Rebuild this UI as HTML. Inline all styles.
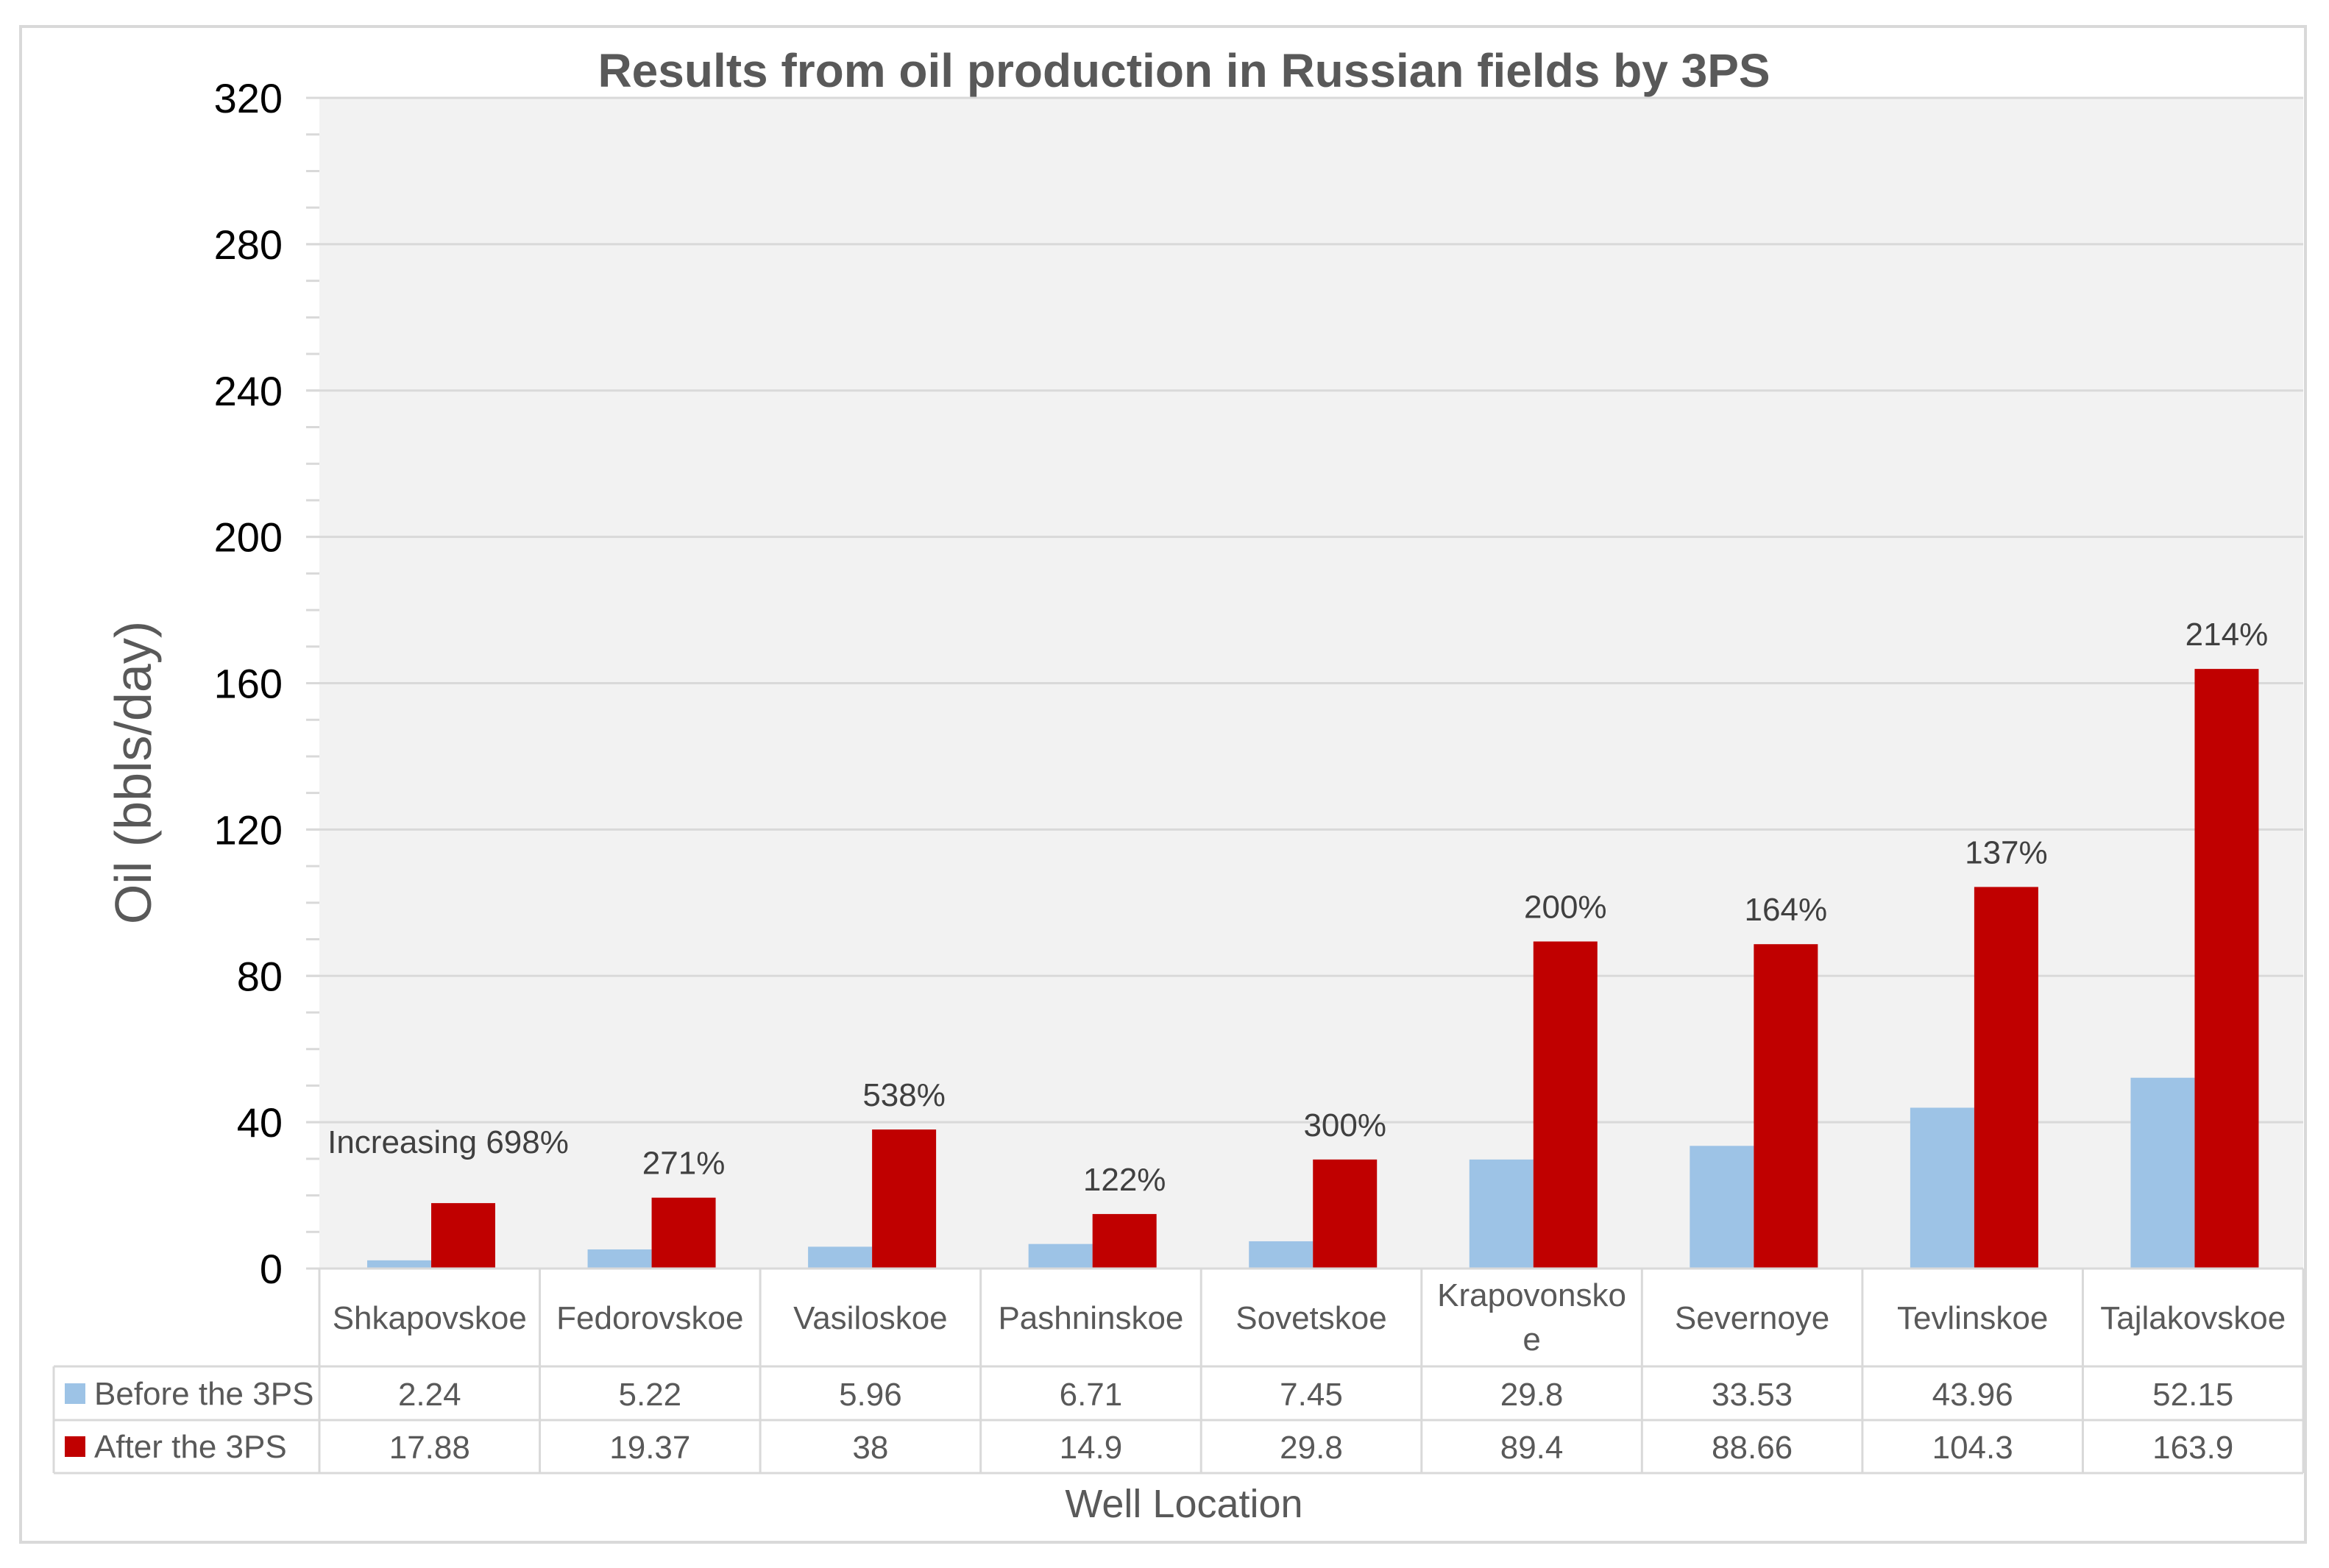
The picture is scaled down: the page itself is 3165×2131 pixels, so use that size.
<!DOCTYPE html>
<html><head><meta charset="utf-8"><style>
html,body{margin:0;padding:0;background:#fff;}
svg{display:block;font-family:"Liberation Sans",sans-serif;}
</style></head><body>
<svg id="chart" width="3165" height="2131" viewBox="0 0 3165 2131">
<rect x="28" y="36" width="3105" height="2060" fill="#fff" stroke="#d9d9d9" stroke-width="4"/>
<rect x="434" y="133" width="2696" height="1591" fill="#f2f2f2"/>
<text x="1609" y="118" text-anchor="middle" font-size="64" font-weight="bold" fill="#595959">Results from oil production in Russian fields by 3PS</text>
<g id="grid"></g><g id="bars"></g><g id="table"></g>
<text transform="translate(205,1050) rotate(-90)" text-anchor="middle" font-size="70" fill="#595959">Oil (bbls/day)</text>
<text x="1609" y="2062" text-anchor="middle" font-size="54" fill="#595959">Well Location</text>
</svg>
<script>
const categories=["Shkapovskoe","Fedorovskoe","Vasiloskoe","Pashninskoe","Sovetskoe","Krapovonskoe","Severnoye","Tevlinskoe","Tajlakovskoe"];
const beforeVals=[2.24,5.22,5.96,6.71,7.45,29.8,33.53,43.96,52.15];
const afterVals=[17.88,19.37,38,14.9,29.8,89.4,88.66,104.3,163.9];
const pctLabels=["Increasing 698%","271%","538%","122%","300%","200%","164%","137%","214%"];
const yTicks=[0,40,80,120,160,200,240,280,320];
const NS="http://www.w3.org/2000/svg";
const L=434,R=3130,T=133,B=1724,YMAX=320;
const cw=(R-L)/categories.length;
const y=v=>B-(v/YMAX)*(B-T);
const xc=i=>L+i*cw;
function mk(tag,attrs,parent,text){const e=document.createElementNS(NS,tag);for(const k in attrs)e.setAttribute(k,attrs[k]);if(text!==undefined)e.textContent=text;parent.appendChild(e);return e;}
const grid=document.getElementById('grid'),bars=document.getElementById('bars'),table=document.getElementById('table');
for(let v=0;v<=YMAX;v+=10){
  const t=mk('line',{x1:L-18,x2:L,y1:y(v),y2:y(v),stroke:'#d9d9d9','stroke-width':3},grid);
  
  
}
yTicks.forEach(v=>{
  const g=mk('line',{x1:L-18,x2:R,y1:y(v),y2:y(v),stroke:'#d9d9d9','stroke-width':3},grid);
  
  
  const t=mk('text',{x:384,y:y(v)+20,'text-anchor':'end','font-size':56,fill:'#000'},grid,String(v));
  
  
});
const bw=87,off=65;
categories.forEach((c,i)=>{
  const x0=xc(i)+off;
  const b1=mk('rect',{x:x0,y:y(beforeVals[i]),width:bw,height:B-y(beforeVals[i]),fill:'#9dc3e6'},bars);
  
  
  const b2=mk('rect',{x:x0+bw,y:y(afterVals[i]),width:bw,height:B-y(afterVals[i]),fill:'#c00000'},bars);
  
  
  const lx=i===0?xc(i)+175:x0+bw*1.5;
  const lb=mk('text',{x:lx,y:y(afterVals[i])-(i===0?68:32),'text-anchor':'middle','font-size':44,fill:'#404040'},bars,pctLabels[i]);
  
  
});
const r0=1724,r1=1857,r2=1930,r3=2002,TL=73;
[[L,R,r0],[TL,R,r1],[TL,R,r2],[TL,R,r3]].forEach(a=>{
  const h=mk('line',{x1:a[0],x2:a[1],y1:a[2],y2:a[2],stroke:'#d9d9d9','stroke-width':3},table);
  
  
});
const vl=mk('line',{x1:TL,x2:TL,y1:r1,y2:r3,stroke:'#d9d9d9','stroke-width':3},table);


for(let i=0;i<=categories.length;i++){
  const v=mk('line',{x1:xc(i),x2:xc(i),y1:r0,y2:r3,stroke:'#d9d9d9','stroke-width':3},table);
  
  
}
categories.forEach((c,i)=>{
  const cx=xc(i)+cw/2;
  if(c==="Krapovonskoe"){
    const a=mk('text',{x:cx,y:1775,'text-anchor':'middle','font-size':44,fill:'#595959'},table,'Krapovonsko');
    
    
    const b=mk('text',{x:cx,y:1835,'text-anchor':'middle','font-size':44,fill:'#595959'},table,'e');
    
    
  } else {
    const a=mk('text',{x:cx,y:1806,'text-anchor':'middle','font-size':44,fill:'#595959'},table,c);
    
    
  }
  const t1=mk('text',{x:cx,y:1910,'text-anchor':'middle','font-size':44,fill:'#595959'},table,String(beforeVals[i]));
  
  
  const t2=mk('text',{x:cx,y:1982,'text-anchor':'middle','font-size':44,fill:'#595959'},table,String(afterVals[i]));
  
  
});
const k1=mk('rect',{x:88,y:1880,width:28,height:28,fill:'#9dc3e6'},table);


const s1=mk('text',{x:128,y:1909,'font-size':44,fill:'#595959'},table,'Before the 3PS');


const k2=mk('rect',{x:88,y:1952,width:28,height:28,fill:'#c00000'},table);


const s2=mk('text',{x:128,y:1981,'font-size':44,fill:'#595959'},table,'After the 3PS');


</script>
</body></html>
